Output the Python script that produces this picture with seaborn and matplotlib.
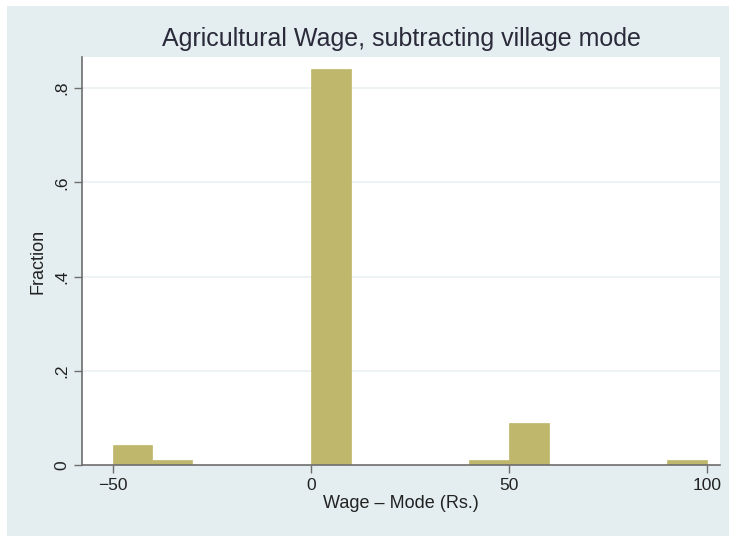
import numpy as np
import pandas as pd
import seaborn as sns
import matplotlib.pyplot as plt
from matplotlib.patches import Rectangle

# %% data (bins of width 10)

bin_left = [-50, -40, 0, 40, 50, 90]
fraction = [0.042, 0.011, 0.841, 0.011, 0.090, 0.011]
bin_edges = list(range(-50, 110, 10))

xtick_values = [-50, 0, 50, 100]
xtick_labels = ["\u221250", "0", "50", "100"]
ytick_values = [0, 0.2, 0.4, 0.6, 0.8]
ytick_labels = ["0", ".2", ".4", ".6", ".8"]

wages = pd.DataFrame({"diff": np.array(bin_left) + 5, "fraction": fraction})

# %% style

sns.set_style("white")
plt.rcParams['font.family'] = ['Liberation Sans', 'DejaVu Sans']

bar_color = "#bfb86c"
bg_color = "#e4eef0"
axis_color = "#6e6e6e"

fig = plt.figure(figsize=(7.33, 5.37), dpi=100, facecolor="white")
fig.patches.append(Rectangle((7 / 733, 1 - 536 / 537), 722 / 733, 530 / 537,
                             transform=fig.transFigure, facecolor=bg_color,
                             edgecolor="none", zorder=-10))

ax = fig.add_axes([82 / 733, 1 - 465 / 537, (720 - 82) / 733, (465 - 57) / 537])
ax.set_facecolor("white")

for yv in ytick_values[1:]:
    ax.axhline(yv, color="#eaf1f3", lw=1.2, zorder=0)

sns.histplot(data=wages, x="diff", weights="fraction", bins=bin_edges,
             color=bar_color, alpha=1, edgecolor=bar_color, linewidth=0.5,
             ax=ax, zorder=2)

ax.set_xlim(-57.8, 103.3)
ax.set_ylim(0, 0.866)

ax.set_xticks(xtick_values)
ax.set_xticklabels(xtick_labels, fontsize=12.5, color="#222222")
ax.set_yticks(ytick_values)
ax.set_yticklabels(ytick_labels, fontsize=12.5, color="#222222", rotation=90,
                   va="center")

ax.tick_params(axis="both", direction="out", length=6, width=1,
               color=axis_color, pad=3)
ax.tick_params(axis="x", bottom=True)
ax.tick_params(axis="y", left=True)

for side in ["top", "right"]:
    ax.spines[side].set_visible(False)
for side in ["left", "bottom"]:
    ax.spines[side].set_color(axis_color)
    ax.spines[side].set_linewidth(1.2)

ax.set_xlabel("Wage \u2013 Mode (Rs.)", fontsize=13, color="#222222", labelpad=2)
ax.set_ylabel("Fraction", fontsize=13, color="#222222", labelpad=6)
ax.set_title("Agricultural Wage, subtracting village mode", fontsize=18,
             color="#2a2a3a", pad=8)

fig.savefig("out.png", dpi=100, facecolor="white")
